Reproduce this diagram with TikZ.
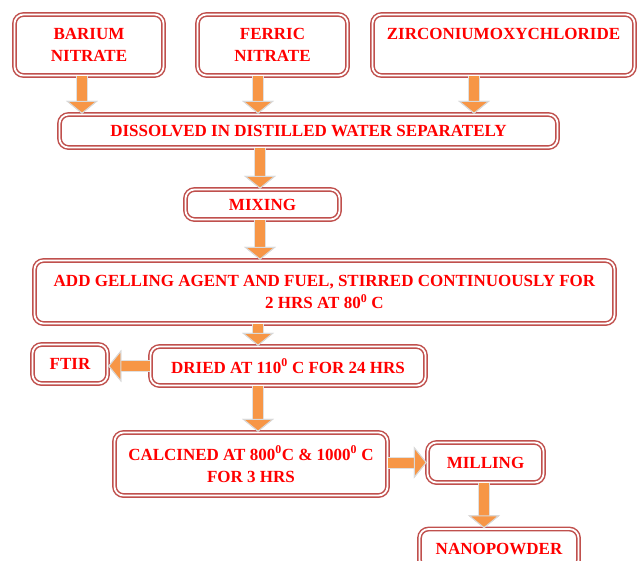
\documentclass[tikz,border=0pt]{standalone}
\usepackage{fontspec}
\setmainfont{Liberation Serif}
\usetikzlibrary{arrows.meta}

\definecolor{boxred}{HTML}{C0504D}
\definecolor{txtred}{HTML}{FF0000}
\definecolor{floworange}{HTML}{F79646}

\tikzset{
  stepbox/.style={draw=boxred, double=white, double distance=1.8pt,
                  line width=1.5pt, rounded corners=9pt, fill=white,
                  text=txtred, align=center, inner sep=0pt,
                  font=\bfseries\fontsize{17}{22}\selectfont},
  flow/.style={draw=floworange, line width=10pt,
               -{Triangle[width=32pt,length=13pt,fill=floworange,color=black!15,line width=1pt]},
               preaction={draw=black!12, line width=12pt}}
}

\begin{document}
\begin{tikzpicture}[x=1pt, y=-1pt]
\useasboundingbox (0,0) rectangle (639,560);

% starting materials
\node[stepbox, minimum width=149pt, minimum height=61pt] (bar) at (89,45) {BARIUM\\NITRATE};
\node[stepbox, minimum width=150pt, minimum height=61pt] (fer) at (272.5,45) {FERRIC\\NITRATE};
\node[stepbox, minimum width=262pt, minimum height=61pt] (zir) at (503.5,45) {ZIRCONIUMOXYCHLORIDE\\~};

% process steps
\node[stepbox, minimum width=498pt, minimum height=33pt] (dis) at (308.5,131) {DISSOLVED IN DISTILLED WATER SEPARATELY};
\node[stepbox, minimum width=154pt, minimum height=30pt] (mix) at (262.5,204.5) {MIXING};
\node[stepbox, minimum width=580pt, minimum height=63pt] (add) at (324.5,292)
  {ADD GELLING AGENT AND FUEL, STIRRED CONTINUOUSLY FOR\\2 HRS AT 80\textsuperscript{0}~C};
\node[stepbox, minimum width=75pt, minimum height=39pt] (ftir) at (70,364) {FTIR};
\node[stepbox, minimum width=275pt, minimum height=39pt] (dry) at (288,366) {DRIED AT 110\textsuperscript{0}~C FOR 24 HRS};
\node[stepbox, minimum width=273pt, minimum height=63pt] (cal) at (251,464)
  {CALCINED AT 800\textsuperscript{0}C \& 1000\textsuperscript{0}~C\\FOR 3 HRS};
\node[stepbox, minimum width=116pt, minimum height=40pt] (mil) at (485.5,462.5) {MILLING};
\node[stepbox, minimum width=159pt, minimum height=40pt] (nano) at (499,549) {NANOPOWDER};

% arrows
\draw[flow] ([xshift=-7pt]bar.south) -- ([xshift=-7pt]bar.south |- dis.north);
\draw[flow] ([xshift=-14.5pt]fer.south) -- ([xshift=-14.5pt]fer.south |- dis.north);
\draw[flow] ([xshift=-29.5pt]zir.south) -- ([xshift=-29.5pt]zir.south |- dis.north);
\draw[flow] ([xshift=-2.5pt]mix.north |- dis.south) -- ([xshift=-2.5pt]mix.north);
\draw[flow] ([xshift=-2.5pt]mix.south) -- ([xshift=-2.5pt]mix.south |- add.north);
\draw[flow] ([xshift=-30pt]dry.north |- add.south) -- ([xshift=-30pt]dry.north);
\draw[flow] (dry.west) -- (dry.west -| ftir.east);
\draw[flow] ([xshift=-30pt]dry.south) -- ([xshift=-30pt]dry.south |- cal.north);
\draw[flow] (cal.east |- mil.west) -- (mil.west);
\draw[flow] ([xshift=-1.5pt]mil.south) -- ([xshift=-1.5pt]mil.south |- nano.north);
\end{tikzpicture}
\end{document}
